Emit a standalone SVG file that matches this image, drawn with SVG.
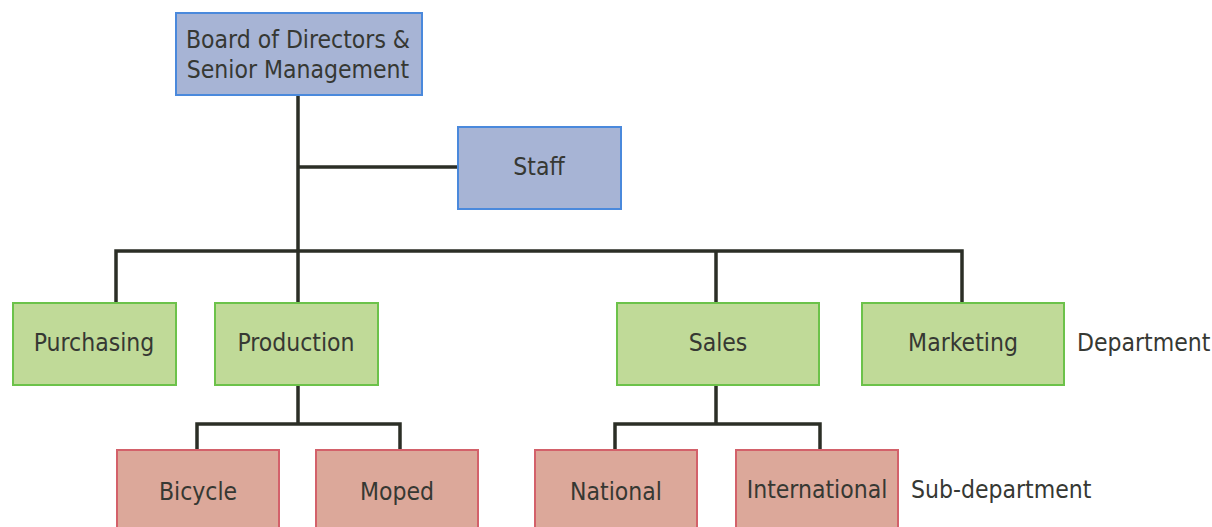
<svg xmlns="http://www.w3.org/2000/svg" width="1212" height="527" viewBox="0 0 1212 527">
<style>
text{font-family:"DejaVu Sans Condensed","Liberation Sans Narrow","Liberation Sans",sans-serif;font-size:24.5px;fill:#363833;text-anchor:middle;dominant-baseline:central}
.lbl{text-anchor:start}
.blue{fill:#a7b4d5;stroke:#4a89dc;stroke-width:2}
.green{fill:#c0da98;stroke:#6cc24a;stroke-width:2}
.red{fill:#dca89a;stroke:#d3616a;stroke-width:2}
.c{fill:none;stroke:#2b2e26;stroke-width:3.5}
</style>
<rect width="1212" height="527" fill="#ffffff"/>
<g id="connectors">
<path class="c" d="M298 95V251M298 167H457M116 303V251H962V303M298 251V303M716 251V303"/>
<path class="c" d="M298 385V424M197 450V424H400V450"/>
<path class="c" d="M716 385V424M615 450V424H820V450"/>
</g>
<g id="board"><rect class="blue" x="176" y="13" width="246" height="82"/><text x="298" y="39">Board of Directors &amp;</text><text x="298" y="69">Senior Management</text></g>
<g id="staff"><rect class="blue" x="458" y="127" width="163" height="82"/><text x="539" y="166">Staff</text></g>
<g id="purchasing"><rect class="green" x="13" y="303" width="163" height="82"/><text x="94" y="342">Purchasing</text></g>
<g id="production"><rect class="green" x="215" y="303" width="163" height="82"/><text x="296" y="342">Production</text></g>
<g id="sales"><rect class="green" x="617" y="303" width="202" height="82"/><text x="718" y="342">Sales</text></g>
<g id="marketing"><rect class="green" x="862" y="303" width="202" height="82"/><text x="963" y="342">Marketing</text></g>
<text class="lbl" x="1077" y="342">Department</text>
<g id="bicycle"><rect class="red" x="117" y="450" width="162" height="82"/><text x="198" y="491">Bicycle</text></g>
<g id="moped"><rect class="red" x="316" y="450" width="162" height="82"/><text x="397" y="491">Moped</text></g>
<g id="national"><rect class="red" x="535" y="450" width="162" height="82"/><text x="616" y="491">National</text></g>
<g id="international"><rect class="red" x="736" y="450" width="162" height="82"/><text x="817" y="489">International</text></g>
<text class="lbl" x="911" y="489">Sub-department</text>
</svg>
